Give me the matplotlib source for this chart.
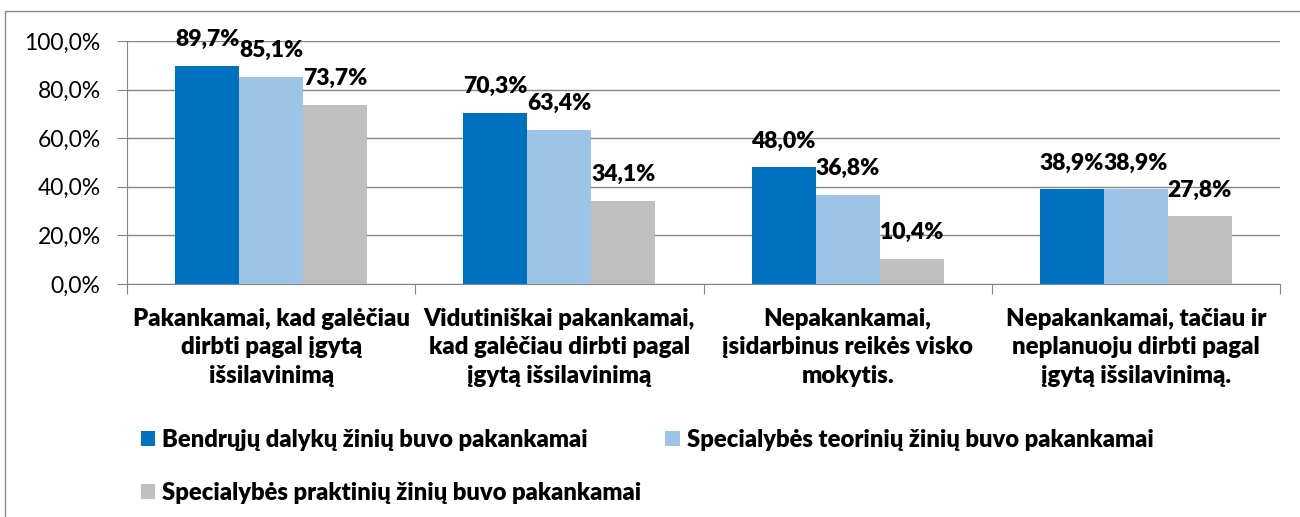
import matplotlib.pyplot as plt
import numpy as np
from matplotlib.patches import Rectangle

plt.rcParams['font.family'] = ['Lato', 'DejaVu Sans']

categories = [
    "Pakankamai, kad galėčiau\ndirbti pagal įgytą\nišsilavinimą",
    "Vidutiniškai pakankamai,\nkad galėčiau dirbti pagal\nįgytą išsilavinimą",
    "Nepakankamai,\nįsidarbinus reikės visko\nmokytis.",
    "Nepakankamai, tačiau ir\nneplanuoju dirbti pagal\nįgytą išsilavinimą.",
]
series_names = [
    "Bendrųjų dalykų žinių buvo pakankamai",
    "Specialybės teorinių žinių buvo pakankamai",
    "Specialybės praktinių žinių buvo pakankamai",
]
bendruju = [89.7, 70.3, 48.0, 38.9]
teoriniu = [85.1, 63.4, 36.8, 38.9]
praktiniu = [73.7, 34.1, 10.4, 27.8]
colors = ["#0070C0", "#9DC3E6", "#BFBFBF"]

fig = plt.figure(figsize=(13, 5.17), dpi=100)
ax = fig.add_axes([0.0977, 0.4507, 0.887, 0.47])

x = np.arange(len(categories))
w = 0.222
handles = []
for i, (vals, name, c) in enumerate(zip([bendruju, teoriniu, praktiniu], series_names, colors)):
    bars = ax.bar(x + (i - 1) * w, vals, w, color=c, label=name, zorder=3)
    handles.append(bars)
    for b, v in zip(bars, vals):
        ax.annotate(f"{v:.1f}%".replace(".", ","), (b.get_x() + b.get_width() / 2, v),
                    xytext=(0, 19), textcoords="offset points", ha="center", va="center",
                    fontsize=16.5, fontweight="heavy", zorder=4)

ax.set_xlim(-0.5, 3.5)
ax.set_ylim(0, 100)
ax.set_yticks(np.arange(0, 101, 20))
ax.set_yticklabels([f"{t:.1f}%".replace(".", ",") for t in np.arange(0, 101, 20)], fontsize=16.5)
ax.yaxis.grid(True, color="#868686", linewidth=1, zorder=0)
ax.set_xticks(np.arange(-0.5, 4, 1))
ax.set_xticklabels([])
ax.set_xticks(x, minor=True)
ax.set_xticklabels(categories, minor=True, fontsize=17.3, fontweight="heavy", linespacing=1.38)
ax.tick_params(axis="x", which="minor", length=0, pad=17)
ax.tick_params(axis="x", which="major", length=7, color="#868686")
ax.tick_params(axis="y", length=7, color="#868686", pad=12)
for s in ["top", "right"]:
    ax.spines[s].set_visible(False)
for s in ["left", "bottom"]:
    ax.spines[s].set_color("#868686")

order = [0, 2, 1]
fig.legend([handles[k] for k in order], [series_names[k] for k in order],
           loc="upper left", bbox_to_anchor=(141 / 1300, 1 - 429 / 517), ncol=2, frameon=False,
           prop={"weight": "heavy", "size": 17.1}, handlelength=0.6, handleheight=0.6,
           handletextpad=0.3, columnspacing=1.0, labelspacing=1.3, borderpad=0, borderaxespad=0)

fig.patches.append(Rectangle((5 / 1300, -0.05), 1.1, 1 - 11 / 517 + 0.05, transform=fig.transFigure,
                             fill=False, edgecolor="#868686", linewidth=1, clip_on=False))

fig.savefig("out.png", dpi=100)
